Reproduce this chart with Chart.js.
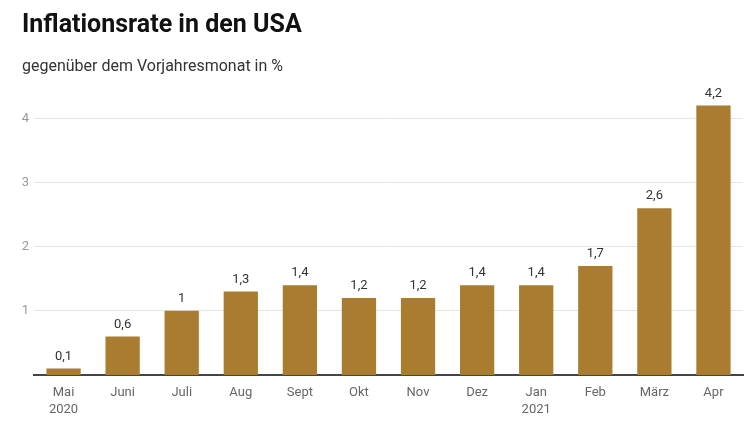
<!DOCTYPE html>
<html>
<head>
<meta charset="utf-8">
<script src="https://cdn.jsdelivr.net/npm/chart.js@4"></script>
<style>
html,body{margin:0;padding:0;background:#fff;}
#wrap{width:750px;height:422px;position:relative;}
</style>
</head>
<body>
<div id="wrap"><canvas id="c" width="750" height="422"></canvas></div>
<script>
const categories = [["Mai","2020"],"Juni","Juli","Aug","Sept","Okt","Nov","Dez",["Jan","2021"],"Feb","März","Apr"];
const inflation = [0.1,0.6,1,1.3,1.4,1.2,1.2,1.4,1.4,1.7,2.6,4.2];
const yTicks = [1,2,3,4];

const fmt = v => String(v).replace('.', ',');

const valueLabels = {
  id: 'valueLabels',
  afterDatasetsDraw(chart) {
    const ctx = chart.ctx;
    const meta = chart.getDatasetMeta(0);
    ctx.save();
    ctx.font = '13px Roboto';
    ctx.fillStyle = '#333';
    ctx.textAlign = 'center';
    ctx.textBaseline = 'middle';
    meta.data.forEach((bar, i) => {
      ctx.fillText(fmt(inflation[i]), bar.x, bar.y - 12);
    });
    ctx.restore();
  }
};

new Chart(document.getElementById('c'), {
  type: 'bar',
  data: {
    labels: categories,
    datasets: [{
      data: inflation,
      backgroundColor: '#aa7c2f',
      borderWidth: 0,
      barPercentage: 0.58,
      categoryPercentage: 1
    }]
  },
  options: {
    responsive: false,
    animation: false,
    devicePixelRatio: 1,
    layout: { padding: { left: 22, right: 7, top: 0, bottom: 0 } },
    plugins: {
      legend: { display: false },
      tooltip: { enabled: false },
      title: {
        display: true,
        text: 'Inflationsrate in den USA',
        align: 'start',
        color: '#111',
        font: { family: 'Roboto', size: 25, weight: '700' },
        padding: { top: 11, bottom: 16 }
      },
      subtitle: {
        display: true,
        text: 'gegenüber dem Vorjahresmonat in %',
        align: 'start',
        color: '#333',
        font: { family: 'Roboto', size: 16 },
        padding: { top: 0, bottom: 10 }
      }
    },
    scales: {
      x: {
        grid: { display: false },
        border: { display: true, color: '#444', width: 2 },
        ticks: {
          color: '#666',
          font: { family: 'Roboto', size: 13, lineHeight: 1.3 },
          padding: 1,
          maxRotation: 0,
          autoSkip: false
        },
        afterFit(s) { s.height = 47; }
      },
      y: {
        min: 0,
        max: 4.5,
        afterBuildTicks(s) { s.ticks = yTicks.map(v => ({ value: v })); },
        grid: { color: '#e6e6e6', lineWidth: 1, drawTicks: false },
        border: { display: false },
        ticks: {
          color: '#999',
          font: { family: 'Roboto', size: 13 },
          padding: 5,
          callback: v => fmt(v)
        },
        afterFit(s) { s.width = 12; }
      }
    }
  },
  plugins: [valueLabels]
});
</script>
</body>
</html>
